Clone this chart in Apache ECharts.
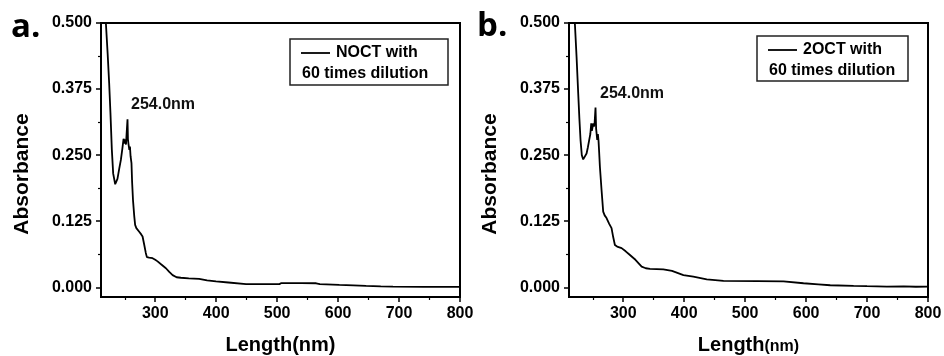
<!DOCTYPE html>
<html>
<head>
<meta charset="utf-8">
<script src="https://cdn.jsdelivr.net/npm/echarts@6/dist/echarts.min.js"></script>
<style>
  html, body { margin: 0; padding: 0; background: #fff; }
  #chart { width: 944px; height: 356px; }
</style>
</head>
<body>
<div id="chart"></div>
<script>
// spectrum a. NOCT, 60x dilution  [wavelength nm, absorbance]
const spectrumA = [
  [215,0.585],[219,0.5],[222,0.44],[224.4,0.386],[226.5,0.33],[228.8,0.26],[231,0.215],[234.3,0.195],
  [236,0.196],[238,0.205],[241,0.225],[243.6,0.241],[246,0.262],[248,0.281],[249.5,0.272],[250.7,0.28],
  [252,0.27],[253,0.29],[254.5,0.318],[255.2,0.28],[256,0.272],[257.5,0.26],[258.5,0.266],[259.5,0.248],
  [261,0.235],[262,0.2],[263.5,0.165],[265.5,0.135],[267,0.118],[269,0.112],[273.7,0.105],[277,0.1],
  [279.2,0.096],[282,0.08],[284.5,0.065],[286.3,0.057],[290,0.056],[295.6,0.055],[300,0.052],[303.8,0.049],
  [310,0.043],[317.5,0.036],[323,0.029],[328.5,0.023],[335,0.019],[342,0.018],[355,0.017],[372,0.016],
  [385,0.013],[399.7,0.011],[420,0.009],[449,0.006],[475,0.006],[503.7,0.006],[507,0.008],[540,0.0078],
  [564,0.0076],[570,0.006],[602,0.0044],[625,0.0035],[646,0.0025],[670,0.0018],[690,0.0013],[740,0.0008],
  [800,0.0006]
];
// spectrum b. 2OCT, 60x dilution
const spectrumB = [
  [216,0.6],[220.6,0.5],[223.4,0.436],[226.1,0.367],[228,0.32],[229.9,0.279],[232,0.25],[234.3,0.242],
  [236.5,0.244],[239.8,0.253],[242,0.265],[244.2,0.279],[246,0.29],[247.5,0.31],[248.5,0.296],[249.7,0.298],
  [250.8,0.31],[251.9,0.304],[253,0.31],[254.5,0.34],[255.5,0.3],[257.3,0.279],[258.4,0.29],[259.5,0.276],
  [260.5,0.255],[261.7,0.228],[264.4,0.184],[267.1,0.143],[269.5,0.136],[272.6,0.131],[277,0.12],[280.8,0.112],
  [283.5,0.095],[286.3,0.08],[290,0.077],[297.3,0.074],[304,0.068],[311,0.061],[320,0.052],[330.2,0.039],
  [337,0.036],[343.9,0.035],[365.8,0.034],[380,0.031],[398.7,0.023],[415,0.02],[437,0.015],[464.4,0.012],
  [520,0.0115],[563,0.011],[595.8,0.0076],[620,0.0055],[639.6,0.0038],[677.9,0.0025],[700,0.002],[732.7,0.0013],
  [760,0.0016],[780,0.001],[800,0.0013]
];

const xTicks = [300, 400, 500, 600, 700, 800];
const xMinorTicks = [250, 350, 450, 550, 650, 750];
const yTicks = [0, 0.125, 0.25, 0.375, 0.5];
const yMinorTicks = [0.0625, 0.1875, 0.3125, 0.4375];

const peakA = [254.5, 0.318];
const peakB = [254.5, 0.34];
const peakText = '254.0nm';
const seriesNames = ['NOCT with', '2OCT with'];
const legendLine2 = '60 times dilution';

const FONT = '"Liberation Sans", Arial, sans-serif';
const X_MIN = 211, X_MAX = 800;
const Y_MIN = -0.0184, Y_MAX = 0.5;

const chart = echarts.init(document.getElementById('chart'));

// two panels side by side
const grids = [
  { left: 101, top: 23, width: 359, height: 274 },
  { left: 569, top: 23, width: 359, height: 274 }
];

const xAxes = [], yAxes = [];
grids.forEach((g, i) => {
  // major ticks + labels
  xAxes.push({
    type: 'value', gridIndex: i, min: X_MIN, max: X_MAX, position: 'bottom',
    name: i === 0 ? 'Length(nm)' : '{a|Length}{b|(nm)}',
    nameLocation: 'middle', nameGap: 38,
    nameTextStyle: {
      fontFamily: FONT, fontWeight: 'bold', fontSize: 20, color: '#000',
      rich: {
        a: { fontFamily: FONT, fontWeight: 'bold', fontSize: 20, color: '#000' },
        b: { fontFamily: FONT, fontWeight: 'bold', fontSize: 16, color: '#000', verticalAlign: 'bottom' }
      }
    },
    axisLine: { show: true, onZero: false, lineStyle: { color: '#000', width: 2 } },
    axisTick: { show: true, inside: false, length: 5, customValues: xTicks, lineStyle: { color: '#000', width: 1.5 } },
    axisLabel: { show: true, margin: 9, customValues: xTicks, fontFamily: FONT, fontWeight: 'bold', fontSize: 16, color: '#000' },
    splitLine: { show: false }
  });
  // minor ticks
  xAxes.push({
    type: 'value', gridIndex: i, min: X_MIN, max: X_MAX, position: 'bottom',
    axisLine: { show: false, onZero: false },
    axisTick: { show: true, inside: false, length: 3, customValues: xMinorTicks, lineStyle: { color: '#000', width: 1.2 } },
    axisLabel: { show: false }, splitLine: { show: false }
  });
  yAxes.push({
    type: 'value', gridIndex: i, min: Y_MIN, max: Y_MAX, position: 'left',
    name: 'Absorbance', nameLocation: 'middle', nameGap: 68,
    nameTextStyle: { fontFamily: FONT, fontWeight: 'bold', fontSize: 21, color: '#000', padding: [0, 28, 0, 0] },
    axisLine: { show: true, onZero: false, lineStyle: { color: '#000', width: 2 } },
    axisTick: { show: true, inside: false, length: 5, customValues: yTicks, lineStyle: { color: '#000', width: 1.5 } },
    axisLabel: {
      show: true, margin: 9, customValues: yTicks, fontFamily: FONT, fontWeight: 'bold', fontSize: 16, color: '#000',
      formatter: v => v.toFixed(3)
    },
    splitLine: { show: false }
  });
  yAxes.push({
    type: 'value', gridIndex: i, min: Y_MIN, max: Y_MAX, position: 'left',
    axisLine: { show: false, onZero: false },
    axisTick: { show: true, inside: false, length: 3, customValues: yMinorTicks, lineStyle: { color: '#000', width: 1.2 } },
    axisLabel: { show: false }, splitLine: { show: false }
  });
});

function spectrumSeries(data, idx, peak, offset) {
  return {
    name: seriesNames[idx],
    type: 'line',
    xAxisIndex: idx * 2,
    yAxisIndex: idx * 2,
    data: data,
    showSymbol: false,
    clip: true,
    lineStyle: { color: '#000', width: 1.8 },
    markPoint: {
      symbol: 'circle',
      symbolSize: 1,
      itemStyle: { color: 'rgba(0,0,0,0)' },
      data: [{
        coord: peak,
        label: {
          show: true, formatter: peakText, position: 'right', offset: offset,
          fontFamily: FONT, fontWeight: 'bold', fontSize: 16, color: '#111'
        }
      }]
    }
  };
}

// legend boxes drawn by hand (the second text line sits under the sample line)
function legendBox(x0, y0, w, h, label) {
  return {
    type: 'group',
    children: [
      { type: 'rect', shape: { x: x0, y: y0, width: w, height: h }, style: { fill: '#fff', stroke: '#222', lineWidth: 1.5 } },
      { type: 'line', shape: { x1: x0 + 11, y1: y0 + 14, x2: x0 + 40, y2: y0 + 14 }, style: { stroke: '#000', lineWidth: 1.8 } },
      { type: 'text', x: x0 + 46, y: y0 + 14, style: { text: label, fontFamily: FONT, fontWeight: 'bold', fontSize: 16, fill: '#000', verticalAlign: 'middle' } },
      { type: 'text', x: x0 + 12, y: y0 + 35, style: { text: legendLine2, fontFamily: FONT, fontWeight: 'bold', fontSize: 16, fill: '#000', verticalAlign: 'middle' } }
    ]
  };
}

const option = {
  animation: false,
  backgroundColor: '#fff',
  grid: grids.map(g => Object.assign({
    show: true, borderColor: '#000', borderWidth: 2, backgroundColor: 'transparent',
    containLabel: false, outerBoundsMode: 'none'
  }, g)),
  xAxis: xAxes,
  yAxis: yAxes,
  series: [
    spectrumSeries(spectrumA, 0, peakA, [-2, -15]),
    spectrumSeries(spectrumB, 1, peakB, [-1, -14])
  ],
  graphic: [
    { type: 'text', x: 11, y: 28, style: { text: 'a.', fontFamily: '"Open Sans", sans-serif', fontWeight: 'bold', fontSize: 33, fill: '#000', verticalAlign: 'middle' } },
    { type: 'text', x: 477, y: 27, style: { text: 'b.', fontFamily: '"Open Sans", sans-serif', fontWeight: 'bold', fontSize: 33, fill: '#000', verticalAlign: 'middle' } },
    legendBox(290, 39, 158, 46, seriesNames[0]),
    legendBox(757, 36, 151, 45, seriesNames[1])
  ]
};

chart.setOption(option);
</script>
</body>
</html>
